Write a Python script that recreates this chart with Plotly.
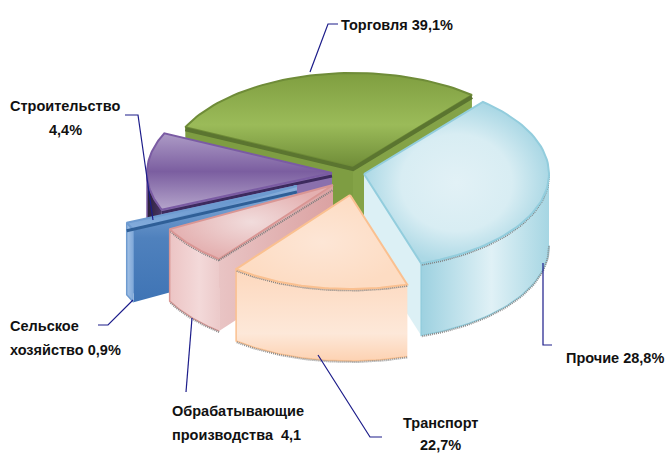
import numpy as np
import plotly.graph_objects as go

# Labelled values, as printed on the chart
categories = ["Торговля", "Прочие", "Транспорт", "Обрабатывающие производства", "Сельское хозяйство", "Строительство"]
labelled_values = ["39,1%", "28,8%", "22,7%", "4,1", "0,9%", "4,4%"]
# Slice sizes as actually drawn in the picture (they differ from the printed labels)
drawn_sizes = [105, 122, 56, 24, 5, 48]

# Styles and layout of the exploded pie
CENTER = (345, 172)
RX, RY, DEPTH = 185, 94, 72
START = 205
EXPLODE = [(8, -5), (19, 2), (5, 23), (-12, 13), (-48, 14), (-13, 1)]
DRAW_ORDER = [0, 5, 4, 1, 3, 2]
STYLE = [
    dict(line="#6f8c38", rim="#5b7530", top=("vertical", [[0, "#6f8c38"], [0.45, "#9bbb59"], [1, "#7f9e40"]]),
         wall=("horizontal", [[0, "#6f8c38"], [1, "#7f9e40"]]), cut="#7e9d42", cut2="#84a347", speck=False),
    dict(line="#93cddd", rim="#93cddd", top=("radial", [[0, "#e2f1f6"], [0.6, "#d8edf3"], [1, "#abd8e5"]]),
         wall=("horizontal", [[0, "#9dd1e0"], [0.55, "#e0f1f6"], [1, "#a6d6e3"]]), cut="#dcf0f5", cut2="#dcf0f5", speck=True),
    dict(line="#fac090", rim="#fac090", top=("radial", [[0, "#fde6d6"], [1, "#fddcc3"]]),
         wall=("vertical", [[0, "#fdd2b2"], [0.3, "#fde8d9"], [1, "#fdd8bd"]]), cut="#fdd9bd", cut2="#fdd9bd", speck=True),
    dict(line="#d99694", rim="#d99694", top=("radial", [[0, "#f1dcdc"], [1, "#e4b0b0"]]),
         wall=("horizontal", [[0, "#ecc4c4"], [0.6, "#f3d9d9"], [1, "#eccaca"]]),
         cut=("horizontal", [[0, "#e9c4c4"], [1, "#dba2a2"]]), cut2="#e6b9b9", speck=True),
    dict(line="#6e9bd0", rim="#2f5f97", top=("vertical", [[0, "#86aedd"], [1, "#5a8cc6"]]),
         wall=("horizontal", [[0, "#a4c2e6"], [1, "#7ea7d8"]]),
         cut=("vertical", [[0, "#3f74b5"], [0.55, "#4f81bd"], [1, "#8cb1dd"]]), cut2="#5f8fc9", speck=False),
    dict(line="#7a5ba3", rim="#3d2a5e", top=("vertical", [[0, "#b5a5cb"], [0.5, "#7b5ea0"], [1, "#ad9bc6"]]),
         wall=("horizontal", [[0, "#2a2038"], [1, "#4a3568"]]), cut="#8a70ad", cut2="#4b3370", speck=False),
]

LABELS = [
    (339, 25, "left", "Торговля 39,1%"),
    (564, 358, "left", "Прочие 28,8%"),
    (440, 423, "center", "Транспорт"),
    (440, 445, "center", "22,7%"),
    (170, 411, "left", "Обрабатывающие"),
    (170, 435, "left", "производства  4,1"),
    (8, 326, "left", "Сельское"),
    (8, 350, "left", "хозяйство 0,9%"),
    (8, 106, "left", "Строительство"),
    (65, 130, "center", "4,4%"),
]
LEADERS = [
    ([310, 328, 338], [72, 24, 24]),
    ([543, 543, 552], [263, 345, 345]),
    ([318, 370, 382], [355, 437, 437]),
    ([192, 186], [318, 392]),
    ([133, 108, 98], [300, 325, 325]),
    ([153, 138, 125], [220, 115, 115]),
]

fig = go.Figure()


def poly(x, y, fill=None, grad=None, line=None, width=1):
    kw = dict(x=list(x), y=list(y), mode="lines", fill="toself", hoverinfo="skip", showlegend=False,
              line=dict(color=line or "rgba(0,0,0,0)", width=width))
    if grad:
        kw["fillgradient"] = dict(type=grad[0], colorscale=grad[1])
    else:
        kw["fillcolor"] = fill
    fig.add_trace(go.Scatter(**kw))


def face(x, y, paint):
    if isinstance(paint, tuple):
        poly(x, y, grad=paint)
    else:
        poly(x, y, fill=paint)


def stroke(x, y, color, width, dash="solid"):
    fig.add_trace(go.Scatter(x=list(x), y=list(y), mode="lines", hoverinfo="skip", showlegend=False,
                             line=dict(color=color, width=width, dash=dash)))


total = sum(drawn_sizes)
edges = START + np.cumsum([0] + [v / total * 360 for v in drawn_sizes])

for i in DRAW_ORDER:
    s = STYLE[i]
    cx, cy = CENTER[0] + EXPLODE[i][0], CENTER[1] + EXPLODE[i][1]
    t = np.radians(np.linspace(edges[i], edges[i + 1], 60))
    ax, ay = cx + RX * np.cos(t), cy + RY * np.sin(t)
    # cut faces: the face whose outer corner lies nearer the viewer goes on top
    faces = [(ay[0], ax[0], s["cut"]), (ay[-1], ax[-1], s["cut2"])]
    for fy0, fx0, paint in sorted(faces, key=lambda f: f[0]):
        face([cx, fx0, fx0, cx], [cy, fy0, fy0 + DEPTH, cy + DEPTH], paint)
    # outer wall, front-facing part only
    front = np.sin(t) >= -0.02
    if front.any():
        fx, fy = ax[front], ay[front]
        poly(np.r_[fx, fx[::-1]], np.r_[fy, fy[::-1] + DEPTH], grad=s["wall"], line=s["line"], width=1.5)
        if s["speck"]:
            stroke(fx, fy + DEPTH + 1, "#8c8c8c", 2, "1px,1px")
            stroke(fx, fy + 1.5, "#7d7d7d", 2, "1px,1px")
    # top
    poly(np.r_[cx, ax, cx], np.r_[cy, ay, cy], grad=s["top"], line=s["line"], width=2)
    if i == 0:
        stroke([ax[0], cx, ax[-1]], [ay[0] + 2, cy + 2, ay[-1] + 2], s["rim"], 4)
    if i == 5:
        stroke([ax[0], cx], [ay[0] + 3, cy + 3], s["rim"], 3)
    if i == 4:
        stroke([ax[-1], cx], [ay[-1] + 8, cy + 6], s["rim"], 3)
    if i == 3:
        stroke([ax[0], cx], [ay[0] + 1, cy + 5], "#7d7d7d", 2, "1px,1px")

for lx, ly in LEADERS:
    stroke(lx, ly, "#1c1c8a", 1.2)

for x, y, anchor, text in LABELS:
    fig.add_annotation(x=x, y=y, xref="x", yref="y", text=f"<b>{text}</b>", showarrow=False,
                       xanchor=anchor, yanchor="middle",
                       font=dict(family="Liberation Sans Narrow, Liberation Sans, sans-serif", size=14.5, color="#111111"))

fig.update_layout(width=667, height=453, margin=dict(l=0, r=0, t=0, b=0), paper_bgcolor="white",
                  plot_bgcolor="white", showlegend=False,
                  xaxis=dict(range=[0, 667], visible=False, fixedrange=True),
                  yaxis=dict(range=[453, 0], visible=False, fixedrange=True))
fig.write_html("out.html", config={"displayModeBar": False},
               post_script="document.body.style.margin='0';document.documentElement.style.overflow='hidden';")
